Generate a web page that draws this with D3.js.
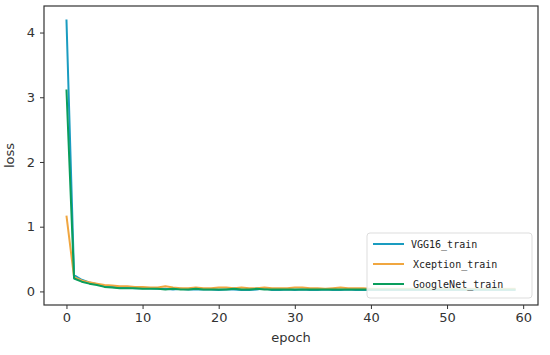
<!DOCTYPE html>
<html>
<head>
<meta charset="utf-8">
<script src="https://cdn.jsdelivr.net/npm/d3@7"></script>
<style>
  body { margin: 0; background: #fff; }
  svg { display: block; }
  .tick text { font-family: "DejaVu Sans", sans-serif; font-size: 13px; fill: #333; }
  .axis-label { font-family: "DejaVu Sans", sans-serif; font-size: 13px; fill: #333; }
  .legend-text { font-family: "DejaVu Sans Mono", monospace; font-size: 10px; fill: #222; }
</style>
</head>
<body>
<div class="chart"></div>
<script>
// epochs 0..59
const epochs = d3.range(0, 60)

const vgg16 = [4.2, 0.25, 0.18, 0.14, 0.11, 0.08, 0.07, 0.06, 0.06, 0.05,
  0.05, 0.05, 0.04, 0.04, 0.03, 0.04, 0.03, 0.03, 0.03, 0.03,
  0.02, 0.03, 0.03, 0.02, 0.02, 0.03, 0.05, 0.02, 0.02, 0.03,
  0.02, 0.03, 0.02, 0.02, 0.03, 0.02, 0.02, 0.03, 0.02, 0.02,
  0.02, 0.02, 0.02, 0.02, 0.02, 0.02, 0.02, 0.02, 0.02, 0.02,
  0.02, 0.02, 0.02, 0.02, 0.02, 0.02, 0.02, 0.02, 0.02, 0.02]

const xception = [1.17, 0.22, 0.17, 0.14, 0.12, 0.1, 0.09, 0.08, 0.08, 0.07,
  0.07, 0.06, 0.06, 0.08, 0.06, 0.05, 0.05, 0.06, 0.05, 0.05,
  0.06, 0.06, 0.05, 0.06, 0.05, 0.05, 0.06, 0.05, 0.05, 0.05,
  0.06, 0.06, 0.05, 0.05, 0.04, 0.05, 0.06, 0.05, 0.05, 0.05,
  0.04, 0.04, 0.04, 0.04, 0.04, 0.04, 0.04, 0.04, 0.04, 0.04,
  0.04, 0.04, 0.04, 0.04, 0.04, 0.04, 0.04, 0.04, 0.04, 0.04]

const googlenet = [3.12, 0.2, 0.15, 0.12, 0.1, 0.07, 0.06, 0.05, 0.05, 0.05,
  0.04, 0.04, 0.04, 0.03, 0.04, 0.03, 0.03, 0.04, 0.03, 0.03,
  0.03, 0.03, 0.04, 0.03, 0.03, 0.04, 0.03, 0.03, 0.03, 0.03,
  0.03, 0.03, 0.03, 0.03, 0.03, 0.03, 0.03, 0.03, 0.03, 0.03,
  0.03, 0.03, 0.03, 0.03, 0.03, 0.03, 0.03, 0.03, 0.03, 0.03,
  0.03, 0.03, 0.03, 0.03, 0.03, 0.03, 0.03, 0.03, 0.03, 0.03]

const seriesNames = ['VGG16_train', 'Xception_train', 'GoogleNet_train']
const seriesColors = ['#1a9cc0', '#f0a640', '#0a9e5c']
const xTicks = [0, 10, 20, 30, 40, 50, 60]
const yTicks = [0, 1, 2, 3, 4]

const width = 550
const height = 355
const margin = {top: 6, right: 12, bottom: 50, left: 44}

const svg = d3.select('.chart')
.append('svg')
.attr('width', width)
.attr('height', height)

const x = d3.scaleLinear()
.domain([-2.95, 61.95])
.range([margin.left, width - margin.right])

const y = d3.scaleLinear()
.domain([-0.21, 4.41])
.range([height - margin.bottom, margin.top])

const series = [vgg16, xception, googlenet]

const line = d3.line()
.x((d, i) => x(epochs[i]))
.y(d => y(d))

series.forEach((s, i) => {
  svg.append('path')
  .datum(s)
  .attr('d', line)
  .attr('fill', 'none')
  .attr('stroke', seriesColors[i])
  .attr('stroke-width', 2)
  .attr('stroke-linejoin', 'round')
})

// axes
const xAxis = svg.append('g')
.attr('transform', `translate(0,${height - margin.bottom})`)
.call(d3.axisBottom(x).tickValues(xTicks).tickFormat(d3.format('d')).tickSize(4).tickPadding(4))

const yAxis = svg.append('g')
.attr('transform', `translate(${margin.left},0)`)
.call(d3.axisLeft(y).tickValues(yTicks).tickFormat(d3.format('d')).tickSize(4).tickPadding(5))

xAxis.select('.domain').remove()
yAxis.select('.domain').remove()
svg.selectAll('.tick line').attr('stroke', '#333')

// frame
svg.append('rect')
.attr('x', margin.left)
.attr('y', margin.top)
.attr('width', width - margin.right - margin.left)
.attr('height', height - margin.bottom - margin.top)
.attr('fill', 'none')
.attr('stroke', '#333')
.attr('stroke-width', 1.2)

svg.append('text')
.attr('class', 'axis-label')
.attr('x', (margin.left + width - margin.right) / 2)
.attr('y', height - 13)
.attr('text-anchor', 'middle')
.text('epoch')

svg.append('text')
.attr('class', 'axis-label')
.attr('transform', `translate(14,${(margin.top + height - margin.bottom) / 2}) rotate(-90)`)
.attr('text-anchor', 'middle')
.text('loss')

// legend
const legend = svg.append('g')
.attr('transform', 'translate(367,233)')

legend.append('rect')
.attr('width', 165)
.attr('height', 65)
.attr('rx', 3)
.attr('fill', '#fff')
.attr('fill-opacity', 0.85)
.attr('stroke', '#ddd')

seriesNames.forEach((name, i) => {
  const row = legend.append('g')
  .attr('transform', `translate(0,${11 + i * 20})`)

  row.append('line')
  .attr('x1', 6)
  .attr('x2', 37)
  .attr('stroke', seriesColors[i])
  .attr('stroke-width', 2)

  row.append('text')
  .attr('class', 'legend-text')
  .attr('x', i === 0 ? 44 : 46)
  .attr('y', 4)
  .text(name)
})
</script>
</body>
</html>
